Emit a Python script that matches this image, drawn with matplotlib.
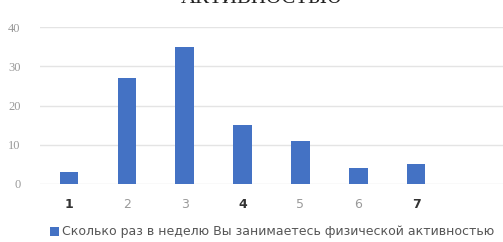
import matplotlib
matplotlib.use("Agg")
import matplotlib.pyplot as plt

categories = ["1", "2", "3", "4", "5", "6", "7", ""]
values = [3, 27, 35, 15, 11, 4, 5, 0]
y_ticks = [0, 10, 20, 30, 40]
series_name = "Сколько раз в неделю Вы занимаетесь физической активностью"
title = "АКТИВНОСТЬЮ"

fig = plt.figure(figsize=(5.03, 2.42), dpi=100)
ax = fig.add_axes([40/503, 58/242, 463/503, 157/242])

x = list(range(len(categories)))
bars = ax.bar(x[:7], values[:7], width=0.32, color="#4472C4", label=series_name, zorder=3)

ax.set_xlim(-0.5, 7.5)
ax.set_ylim(0, 40)
ax.set_yticks(y_ticks)
ax.set_yticklabels([str(v) for v in y_ticks], color="#9a9a9a", fontsize=9, family="Liberation Serif")
ax.set_xticks(x[:7])
ax.set_xticklabels(categories[:7], fontsize=9)
for i, lbl in enumerate(ax.get_xticklabels()):
    if categories[i] in ("1", "4", "7"):
        lbl.set_color("#333333")
        lbl.set_fontweight("bold")
    else:
        lbl.set_color("#9a9a9a")
ax.tick_params(axis="both", length=0)
ax.tick_params(axis="y", pad=14)
ax.tick_params(axis="x", pad=10)
ax.grid(axis="y", color="#e4e4e4", linewidth=1, zorder=0)
for s in ax.spines.values():
    s.set_visible(False)

fig.text(262/503, 1 - 3/242, title, ha="center", va="baseline", fontsize=15,
         family="Liberation Serif", color="#222222")

leg = fig.legend(handles=[bars], labels=[series_name], loc="center",
                 bbox_to_anchor=(272/503, 1 - 232/242), frameon=False, fontsize=9,
                 handlelength=0.7, handleheight=0.7, handletextpad=0.2, borderaxespad=0)
for t in leg.get_texts():
    t.set_color("#555555")

fig.savefig("out.png", dpi=100)
